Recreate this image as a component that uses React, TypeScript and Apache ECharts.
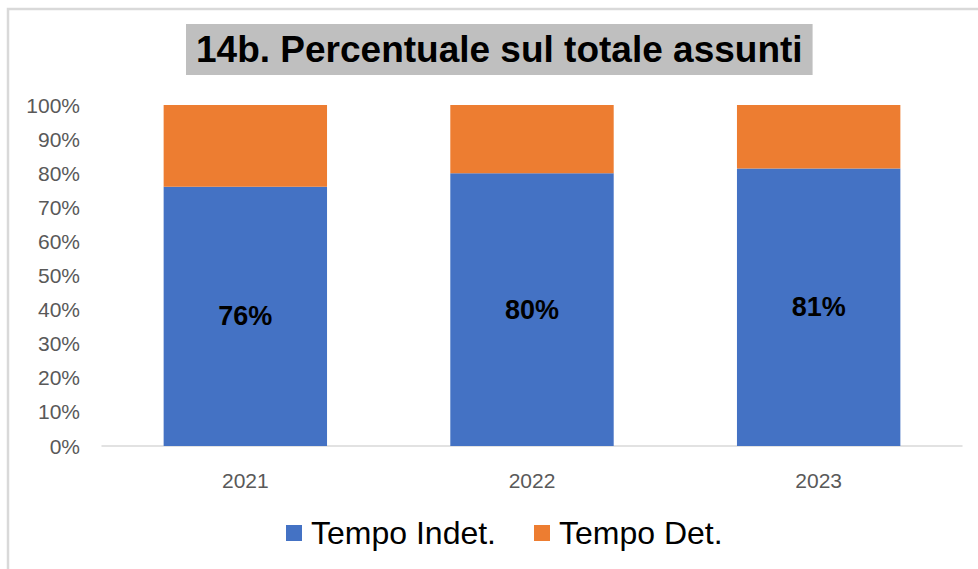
import React, { useEffect, useRef } from "react";
import * as echarts from "echarts";

const categories = ["2021", "2022", "2023"];
const tempoIndet = [76, 80, 81.4];
const tempoDet = [24, 20, 18.6];
const seriesNames = ["Tempo Indet.", "Tempo Det."];
const titleText = "14b. Percentuale sul totale assunti";

export default function App() {
  const ref = useRef<HTMLDivElement>(null);
  useEffect(() => {
    if (!ref.current) return;
    const chart = echarts.init(ref.current, null, { renderer: "svg" });
    chart.setOption({
      animation: false,
      backgroundColor: "#ffffff",
      textStyle: { fontFamily: "Liberation Sans, Arial, sans-serif" },
      graphic: [
        {
          type: "rect",
          shape: { x: 8, y: 9, width: 1100, height: 700 },
          style: { fill: "none", stroke: "#d9d9d9", lineWidth: 2.5 },
          silent: true,
        },
      ],
      title: {
        text: titleText,
        left: 186,
        top: 24,
        padding: [5, 10, 5, 10],
        backgroundColor: "#bfbfbf",
        textStyle: {
          fontSize: 37,
          fontWeight: "bold",
          color: "#000000",
          lineHeight: 41,
          fontFamily: "Liberation Sans, Arial, sans-serif",
        },
      },
      legend: {
        data: seriesNames,
        left: 281,
        top: 510,
        itemWidth: 16,
        itemHeight: 16,
        itemGap: 38,
        icon: "rect",
        textStyle: {
          fontSize: 32,
          lineHeight: 36,
          color: "#000000",
          padding: [0, 0, 0, 4],
        },
      },
      grid: { left: 102, right: 16, top: 105, bottom: 123, containLabel: false },
      xAxis: {
        type: "category",
        data: categories,
        axisLine: { show: true, lineStyle: { color: "#d9d9d9", width: 1.5 } },
        axisTick: { show: false },
        axisLabel: { fontSize: 21, color: "#595959", margin: 24 },
      },
      yAxis: {
        type: "value",
        min: 0,
        max: 100,
        interval: 10,
        axisLine: { show: false },
        axisTick: { show: false },
        splitLine: { show: false },
        axisLabel: { fontSize: 21, color: "#595959", margin: 22, formatter: "{value}%" },
      },
      series: [
        {
          name: seriesNames[0],
          type: "bar",
          stack: "total",
          data: tempoIndet,
          barWidth: "57%",
          itemStyle: { color: "#4472c4" },
          label: {
            show: true,
            position: "inside",
            formatter: (p: any) => Math.round(p.value) + "%",
            fontSize: 27,
            fontWeight: "bold",
            color: "#000000",
          },
        },
        {
          name: seriesNames[1],
          type: "bar",
          stack: "total",
          data: tempoDet,
          barWidth: "57%",
          itemStyle: { color: "#ed7d31" },
        },
      ],
    });
    return () => chart.dispose();
  }, []);
  return (
    <div
      ref={ref}
      style={{ position: "absolute", left: 0, top: 0, width: 978, height: 569 }}
    />
  );
}
